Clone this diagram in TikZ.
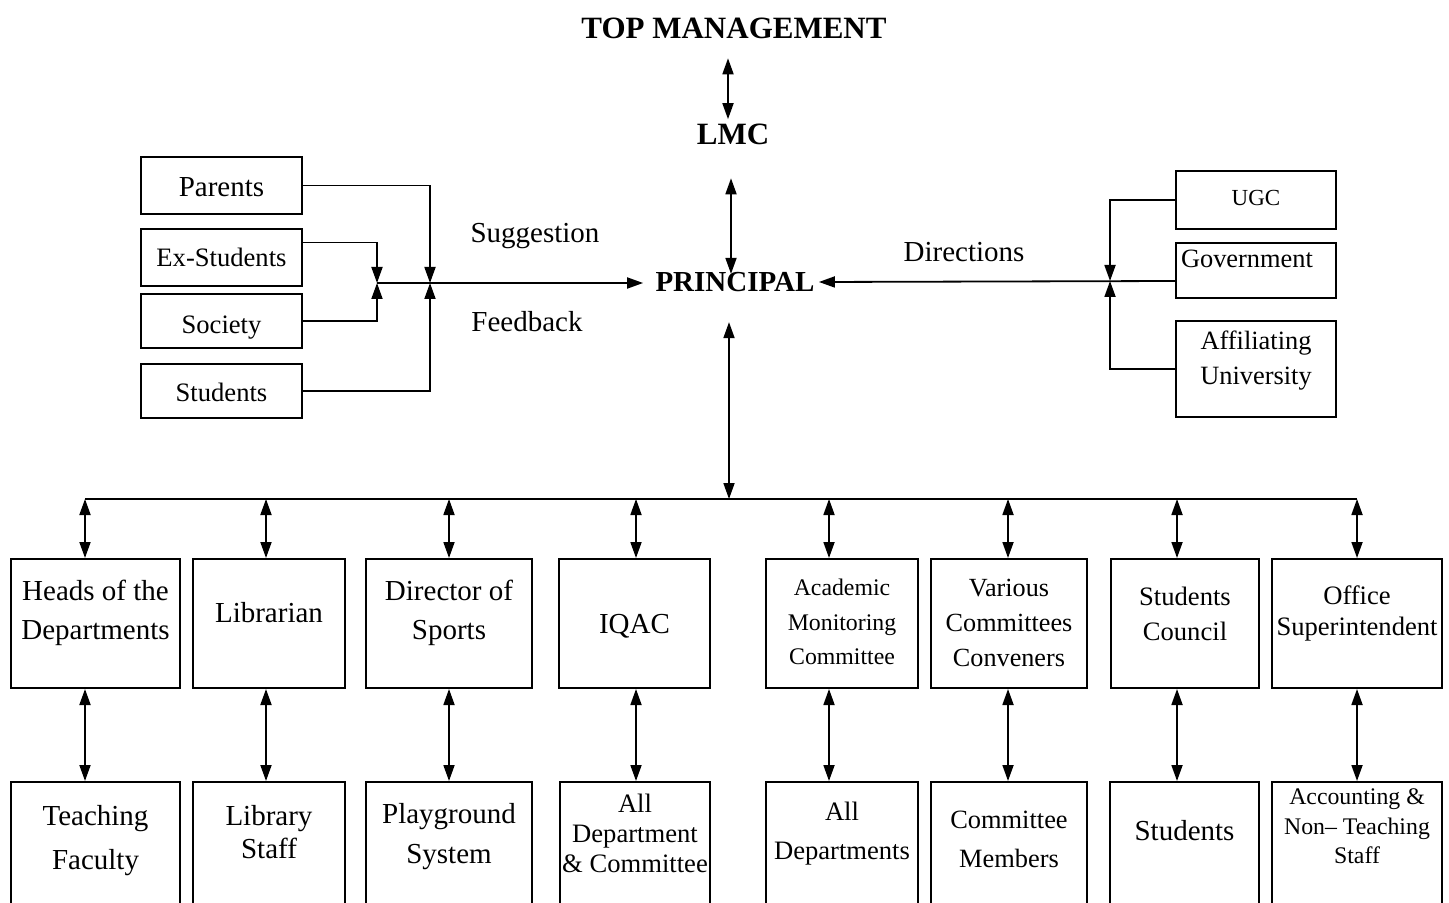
\documentclass[tikz,border=0pt]{standalone}
\usepackage{fontspec}
\setmainfont{Liberation Serif}
\usetikzlibrary{arrows.meta}

\begin{document}
\begin{tikzpicture}[x=0.5pt, y=-0.5pt]
\tikzset{box/.style={draw, line width=1pt, align=center, anchor=north, inner ysep=0pt, inner xsep=1pt},
tb/.style 2 args={text height=#1, text depth=#2},
fs/.style 2 args={font=\fontsize{#1}{#2}\selectfont},
lbl/.style={inner sep=2pt},
head/.style={inner sep=2pt, font=\fontsize{15.5}{18}\selectfont\bfseries},
f/.style={line width=0.9pt},
arr/.style={->, >={Triangle[length=8pt, width=5.5pt]}, line width=0.9pt},
dbl/.style={<->, >={Triangle[length=8pt, width=5.5pt]}, line width=0.9pt}};

\useasboundingbox (0,0) rectangle (1449,903);
\clip (0,0) rectangle (1449,903);

% top of the chart
\node[head] (top) at (734,28) {TOP MANAGEMENT};
\node[head] (lmc) at (733,134) {LMC};
\node[head, font=\fontsize{14.5}{17}\selectfont\bfseries] (prin) at (735,282) {PRINCIPAL};

\draw[dbl, shorten <=7.75pt] ([xshift=-3pt]top.south) -- ([xshift=-2.5pt]lmc.north);
\draw[dbl, shorten <=14.75pt, shorten >=-3pt] ([xshift=-1pt]lmc.south) -- ([xshift=-2pt]prin.north);

% left side
\node[box, fs={14.5}{19}, tb={19.8pt}{8.7pt}, minimum width=80.5pt] (parents) at (221.5,156) {Parents};
\node[box, fs={13.3}{17}, tb={18.8pt}{9.7pt}, minimum width=80.5pt] (exstud) at (221.5,228) {Ex-Students};
\node[box, fs={13.3}{17}, tb={19.8pt}{7.2pt}, minimum width=80.5pt] (society) at (221.5,293) {Society};
\node[box, fs={13.3}{17}, tb={18.9pt}{8.1pt}, minimum width=80.5pt] (students) at (221.5,363) {Students};

\node[lbl, fs={14.5}{17}] (sugg) at (535,236) {Suggestion};
\node[lbl, fs={14.5}{17}] (feedb) at (527,322) {Feedback};

\coordinate (jl) at (377,283);
\coordinate (jr) at (430,283);
\draw[arr] (parents) -| (jr);
\draw[arr] ([yshift=7.5pt]exstud.east) -| (jl);
\draw[arr] (society) -| (jl);
\draw[arr] (students) -| (jr);
\draw[arr, shorten >=4pt] (jl) -- (jl -| prin.west);

% right side
\node[box, fs={11.5}{14}, tb={17.3pt}{11.7pt}, minimum width=80pt] (ugc) at (1256,170) {UGC};
\node[box, fs={13.2}{17}, tb={12.35pt}{15.15pt}, text width=75pt, inner xsep=2.5pt, align=left] (govt) at (1256,242) {Government};
\node[box, fs={13.2}{17.5}, tb={31.85pt}{16.15pt}, minimum width=80pt] (affil) at (1256,320) {Affiliating\\University};

\node[lbl, fs={14.5}{17}] (direc) at (964,252) {Directions};

\coordinate (jg) at (1110,281);
\draw[arr] (ugc) -| (jg);
\draw[arr] (affil) -| (jg);
\draw[arr] (jg -| govt.west) -- (prin.east);

% first row
\node[box, fs={14.5}{19.5}, tb={40.25pt}{24.25pt}, minimum width=84.5pt] (h1) at (95.5,558) {Heads of the\\Departments};
\node[box, fs={14.5}{19.5}, tb={31.8pt}{32.7pt}, minimum width=76pt] (h2) at (269,558) {Librarian};
\node[box, fs={14.5}{19.5}, tb={40.25pt}{24.25pt}, minimum width=83pt] (h3) at (449,558) {Director of\\Sports};
\node[box, fs={14.5}{19.5}, tb={37.3pt}{27.2pt}, minimum width=75.5pt] (h4) at (634.5,558) {IQAC};
\node[box, fs={11.9}{17.25}, tb={52.95pt}{11.55pt}, minimum width=76pt] (h5) at (842,558) {Academic\\Monitoring\\Committee};
\node[box, fs={13.1}{17.5}, tb={53.85pt}{10.65pt}, minimum width=78pt] (h6) at (1009,558) {Various\\Committees\\Conveners};
\node[box, fs={13.3}{17.5}, tb={40.9pt}{23.6pt}, minimum width=74pt] (h7) at (1185,558) {Students\\Council};
\node[box, fs={13.3}{15.5}, tb={38.4pt}{26.1pt}, minimum width=85pt] (h8) at (1357,558) {Office\\Superintendent};

% second row
\node[box, fs={14.5}{22}, tb={43.8pt}{60pt}, minimum width=84.5pt] (b1) at (95.5,781) {Teaching\\Faculty};
\node[box, fs={14.5}{16.5}, tb={38.3pt}{60pt}, minimum width=76pt] (b2) at (269,781) {Library\\Staff};
\node[box, fs={14.5}{20}, tb={40.8pt}{60pt}, minimum width=83pt] (b3) at (449,781) {Playground\\System};
\node[box, fs={13.3}{15}, tb={45.4pt}{60pt}, minimum width=75pt] (b4) at (635,781) {All\\Department\\\& Committee};
\node[box, fs={13.3}{19.5}, tb={38.9pt}{60pt}, minimum width=76pt] (b5) at (842,781) {All\\Departments};
\node[box, fs={13.2}{19.5}, tb={42.9pt}{60pt}, minimum width=78pt] (b6) at (1009,781) {Committee\\Members};
\node[box, fs={14.5}{19}, tb={29.3pt}{60pt}, minimum width=74.5pt] (b7) at (1184.5,781) {Students};
\node[box, fs={11.9}{14.75}, tb={40.9pt}{60pt}, minimum width=85pt] (b8) at (1357,781) {Accounting \&\\Non-- Teaching\\Staff};

% bus and links
\foreach \i/\x in {1/85, 2/266, 3/449, 4/636, 5/829, 6/1008, 7/1177, 8/1357} {
	\coordinate (c\i) at (\x,499);
	\draw[dbl] (c\i) -- (c\i |- h\i.north);
	\draw[dbl] (c\i |- h\i.south) -- (c\i |- b\i.north);
}
\draw[f] (c1) -- (c8);

\coordinate (cp) at (729,499);
\draw[dbl, shorten <=13pt] (cp |- prin.south) -- (cp);

\end{tikzpicture}
\end{document}
